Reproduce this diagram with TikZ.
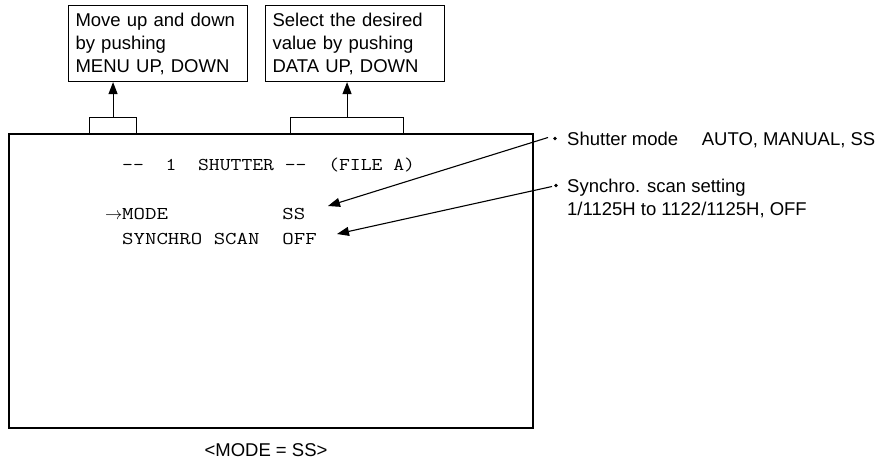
\documentclass[tikz,border=0pt]{standalone}
\usepackage{fontspec}
\setmainfont{Liberation Sans}
\usepackage{graphicx}
\usetikzlibrary{arrows.meta}
\newcommand\monotxt[2]{\scalebox{#1}[1]{\fontsize{18}{18}\selectfont\ttfamily #2}}
\begin{document}
\begin{tikzpicture}[x=1pt,y=-1pt,
  lbl/.style={font=\fontsize{18.5}{23}\selectfont, inner sep=0pt},
  callbox/.style={draw, line width=1.1pt, align=left, text width=165pt, inner xsep=7pt,
    minimum height=76pt, anchor=north west, font=\fontsize{18.5}{23}\selectfont},
  tabbox/.style={draw, line width=1.1pt, minimum height=16pt, anchor=north west, inner sep=0pt},
  arr/.style={line width=1.1pt, -{Triangle[length=12pt,width=9pt]}},
  dotmark/.style={circle, fill, inner sep=0pt, minimum size=3.6pt},
  mono/.style={inner sep=0pt, anchor=base west}]
\useasboundingbox (0,0) rectangle (882,460);

% top call-out boxes
\node[callbox] (box1) at (68,5) {Move up and down\\by pushing\\MENU UP, DOWN};
\node[callbox] (box2) at (265,5) {Select the desired\\value by pushing\\DATA UP, DOWN};

% screen
\node[draw, line width=1.5pt, minimum width=524pt, minimum height=294pt, anchor=north west, inner sep=0pt] (screen) at (8,133) {};

% tabs
\node[tabbox, minimum width=47pt] (tab1) at (89,117) {};
\node[tabbox, minimum width=113pt] (tab2) at (290,117) {};

\draw[arr] (tab1.north) -- (tab1.north |- box1.south);
\draw[arr] (tab2.north) -- (tab2.north |- box2.south);

% screen text
\node[mono] (l1) at (122,170.5) {\monotxt{1.17}{-{}-~~1~~SHUTTER~-{}-~~(FILE~A)}};
\node[inner sep=0pt, anchor=base east, font=\fontsize{18}{18}\selectfont] (l2a) at (122.5,219.5) {$\rightarrow$};
\node[mono] (l2) at (122,219.5) {\monotxt{1.235}{MODE~~~~~~~~~~SS}};
\node[mono] (l3) at (122,244.5) {\monotxt{1.235}{SYNCHRO~SCAN~~OFF}};

% right labels
\node[dotmark] (d1) at (555,138.5) {};
\node[lbl, anchor=base west] (lab1) at (567,145) {Shutter mode \quad AUTO, MANUAL, SS};
\node[dotmark] (d2) at (556,185.5) {};
\node[lbl, anchor=base west] (lab2a) at (567,192) {Synchro. scan setting};
\node[lbl, anchor=base west] (lab2b) at (567,215) {1/1125H to 1122/1125H, OFF};

\coordinate (s1) at (548,137.5);
\coordinate (tipA) at (328,206);
\coordinate (s2) at (552,186.5);
\coordinate (tipB) at (337,234);
\draw[arr] (s1) -- (tipA);
\draw[arr] (s2) -- (tipB);

% caption
\node[lbl] (cap) at (266,450) {<MODE = SS>};
\end{tikzpicture}
\end{document}
